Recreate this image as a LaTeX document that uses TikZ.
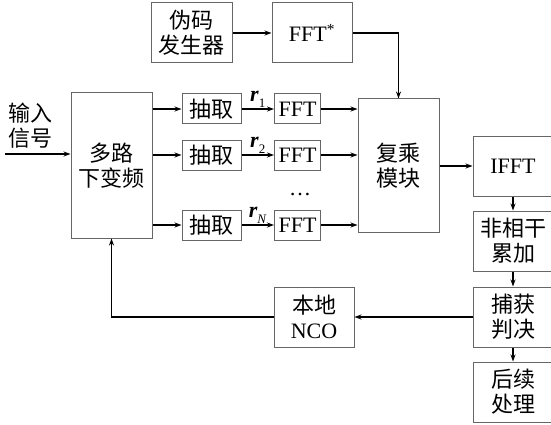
\documentclass[tikz,border=0pt]{standalone}
\usepackage{fontspec}
\setmainfont{Liberation Serif}
\newfontfamily\cjk{Noto Sans CJK SC}
\usetikzlibrary{arrows.meta}
\begin{document}
\begin{tikzpicture}[x=1pt,y=-1pt,
  box/.style={draw=black!60, line width=1pt, inner sep=0pt, align=center,
    font=\fontsize{22}{25}\selectfont},
  bigbox/.style={box, minimum width=80, minimum height=60},
  smallbox/.style={box, minimum height=30},
  arr/.style={line width=1.4pt, -{Stealth[length=7pt,width=5pt]}},
  lab/.style={font=\fontsize{22}{25}\selectfont, inner sep=1pt}]
\useasboundingbox (0,0) rectangle (551,425);
% top row
\node[bigbox, minimum width=81] (pn) at (191.5,33) {\cjk 伪码\\\cjk 发生器};
\node[bigbox] (fftc) at (312,33) {FFT\textsuperscript{*}};
% down-converter
\node[box, minimum width=81, minimum height=145] (ddc) at (111.5,165.5) {\cjk 多路\\\cjk 下变频};
% decimators
\node[smallbox, minimum width=59] (d1) at (211.5,109) {\cjk 抽取};
\node[smallbox, minimum width=59] (d2) at (211.5,155) {\cjk 抽取};
\node[smallbox, minimum width=59] (d3) at (211.5,225) {\cjk 抽取};
% FFTs
\node[smallbox, minimum width=46] (f1) at (297.5,109) {FFT};
\node[smallbox, minimum width=46] (f2) at (297.5,155) {FFT};
\node[smallbox, minimum width=46] (f3) at (297.5,225) {FFT};
\node[lab, anchor=base] (dots) at (300,195) {\ldots};
% complex multiply
\node[box, minimum width=81, minimum height=133] (mul) at (398.5,165.5) {\cjk 复乘\\\cjk 模块};
% right column
\node[bigbox] (ifft) at (513,166) {IFFT};
\node[bigbox] (nc) at (513,241) {\cjk 非相干\\\cjk 累加};
\node[bigbox] (acq) at (513,317) {\cjk 捕获\\\cjk 判决};
\node[bigbox] (post) at (513,392) {\cjk 后续\\\cjk 处理};
\node[bigbox] (nco) at (314,317) {\cjk 本地\\NCO};
% input
\node[lab, align=center] (inlab) at (31,125.5) {\cjk 输入\\\cjk 信号};
\coordinate (in) at (5,154);
\draw[arr] (in) -- (in -| ddc.west);
% connectors
\draw[arr] (pn) -- (fftc);
\draw[arr] (fftc.east) -| (mul.north);
\foreach \i in {1,2,3} {
  \draw[arr] (ddc.east |- d\i) -- (d\i.west);
  \draw[arr] (f\i.east) -- (mul.west |- f\i);
}
\draw[arr] (d1) -- node[lab, above] {\textbf{\textit{r}}\raisebox{-0.6ex}{\fontsize{13}{13}\selectfont 1}} (f1);
\draw[arr] (d2) -- node[lab, above] {\textbf{\textit{r}}\raisebox{-0.6ex}{\fontsize{13}{13}\selectfont 2}} (f2);
\draw[arr] (d3) -- node[lab, above] {\textbf{\textit{r}}\raisebox{-0.6ex}{\fontsize{13}{13}\selectfont\textit{N}}} (f3);
\draw[arr] (mul.east |- ifft) -- (ifft.west);
\draw[arr] (ifft) -- (nc);
\draw[arr] (nc) -- (acq);
\draw[arr] (acq) -- (post);
\draw[arr] (acq) -- (nco);
\draw[arr] (nco.west) -| (ddc.south);
\end{tikzpicture}
\end{document}
